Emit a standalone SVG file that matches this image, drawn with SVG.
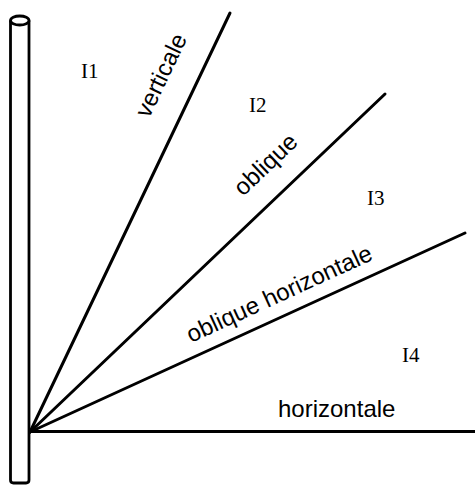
<svg xmlns="http://www.w3.org/2000/svg" width="475" height="485" viewBox="0 0 475 485">
<style>
.ln{stroke:#000;stroke-width:3;fill:none;stroke-linecap:round}
.pole{stroke:#000;stroke-width:2.8;fill:#fff}
.lab{font-family:"Liberation Sans",Arial,sans-serif;font-size:24px;fill:#000}
.zone{font-family:"Liberation Serif","Times New Roman",serif;font-size:21px;fill:#000}
</style>
<rect width="475" height="485" fill="#fff"/>
<g id="pole">
<path class="pole" d="M10.5,20.5 V480 Q10.5,483 13.5,483 H26 Q29,483 29,480 V20.5"/>
<ellipse class="pole" cx="19.75" cy="20.5" rx="9.25" ry="4.5"/>
</g>
<g id="connectors">
<line class="ln" x1="30" y1="432" x2="230" y2="13"/>
<line class="ln" x1="30" y1="432" x2="385" y2="94"/>
<line class="ln" x1="30" y1="432" x2="465" y2="233"/>
<line class="ln" x1="30" y1="431.5" x2="475" y2="431.5"/>
</g>
<g id="labels">
<text class="lab" transform="translate(149,119) rotate(-64.5)">verticale</text>
<text class="lab" transform="translate(243,197) rotate(-43.6)">oblique</text>
<text class="lab" transform="translate(191,343) rotate(-24.6)">oblique horizontale</text>
<text class="lab" x="278" y="417">horizontale</text>
</g>
<g id="zones">
<text class="zone" x="81" y="78">I1</text>
<text class="zone" x="249" y="112">I2</text>
<text class="zone" x="367" y="205">I3</text>
<text class="zone" x="402" y="362">I4</text>
</g>
</svg>
